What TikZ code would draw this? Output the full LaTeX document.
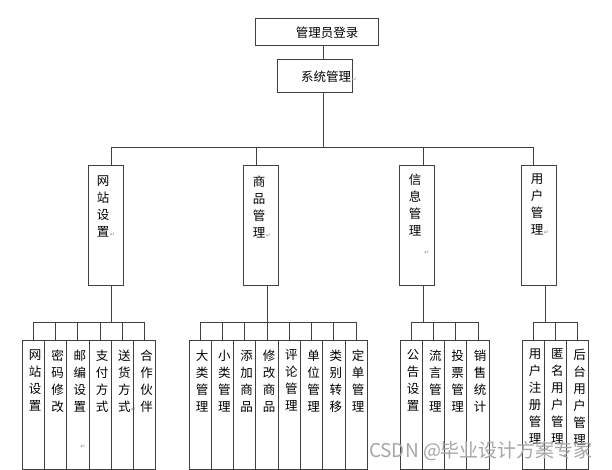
\documentclass[tikz,border=0pt]{standalone}
\usepackage{fontspec}
\setmainfont{Noto Sans CJK SC}
\newfontfamily\markfont{DejaVu Sans}
\usetikzlibrary{positioning}
\newcommand{\pmark}{\rlap{\kern0.5pt\textcolor{black!45}{\markfont\fontsize{6}{6}\selectfont ↵}}}
\tikzset{
    box/.style={rectangle,draw=black!75,line width=0.9pt,inner sep=0pt},
    headbox/.style={box,minimum width=123pt,minimum height=27pt},
    sysbox/.style={box,minimum width=75pt,minimum height=33pt},
    catbox/.style={box,anchor=north,minimum width=35pt,minimum height=120pt},
    leafbox/.style={box,anchor=north,minimum width=22.3pt,minimum height=129pt},
    title/.style={inner sep=0pt,font=\fontsize{12.5}{14}\selectfont},
    vtext/.style={anchor=north,align=center,inner sep=0pt,font=\fontsize{12.5}{17}\selectfont},
    pm/.style={inner sep=0pt,text=black!45,font=\markfont\fontsize{6}{6}\selectfont},
    link/.style={draw=black!75,line width=0.9pt},
    wmark/.style={inner sep=0pt,text=black!35,font=\fontsize{19}{19}\selectfont},
}

\begin{document}
\begin{tikzpicture}[x=1pt,y=-1pt]
    \path[use as bounding box,fill=white] (0,0) rectangle (612,470);

    % top of the tree
    \node[headbox] (login) at (316.5,31.5) {};
    \node[title] (tLogin) at (327,33) {管理员登录};
    \node[sysbox] (sys) at (314.5,75.5) {};
    \node[title] (tSys) at (326,77) {系统管理\pmark};

    % second level
    \node[catbox] (web) at (105.5,165) {};
    \node[catbox] (goods) at (261,165) {};
    \node[catbox] (info) at (417,165) {};
    \node[catbox] (usr) at (539,165) {};
    \node[vtext] (tWeb) at (103,175.5) {网\\站\\设\\置\pmark};
    \node[vtext] (tGoods) at (259,175.5) {商\\品\\管\\理\pmark};
    \node[vtext] (tInfo) at (415,173.5) {信\\息\\管\\理};
    \node[vtext] (tUsr) at (537,173.5) {用\\户\\管\\理\pmark};
    \node[pm] (pInfo) at (427,253) {↵};

    % leaves: website
    \node[leafbox] (w1) at (33.2,340) {};
    \node[leafbox] (w2) at (55.5,340) {};
    \node[leafbox] (w3) at (77.8,340) {};
    \node[leafbox] (w4) at (100.1,340) {};
    \node[leafbox] (w5) at (122.4,340) {};
    \node[leafbox] (w6) at (144.7,340) {};
    \node[vtext] (tw1) at (35.2,349.5) {网\\站\\设\\置};
    \node[vtext] (tw2) at (57.5,349.5) {密\\码\\修\\改};
    \node[vtext] (tw3) at (79.8,349.5) {邮\\编\\设\\置};
    \node[vtext] (tw4) at (102.1,349.5) {支\\付\\方\\式};
    \node[vtext] (tw5) at (124.4,349.5) {送\\货\\方\\式\pmark};
    \node[vtext] (tw6) at (146.7,349.5) {合\\作\\伙\\伴};
    \node[pm] (pw3) at (83,447) {↵};

    % leaves: goods
    \node[leafbox] (g1) at (200.1,340) {};
    \node[leafbox] (g2) at (222.4,340) {};
    \node[leafbox] (g3) at (244.7,340) {};
    \node[leafbox] (g4) at (267,340) {};
    \node[leafbox] (g5) at (289.3,340) {};
    \node[leafbox] (g6) at (311.6,340) {};
    \node[leafbox] (g7) at (333.9,340) {};
    \node[leafbox] (g8) at (356.2,340) {};
    \node[vtext] (tg1) at (202.1,349.5) {大\\类\\管\\理};
    \node[vtext] (tg2) at (224.4,349.5) {小\\类\\管\\理};
    \node[vtext] (tg3) at (246.7,349.5) {添\\加\\商\\品};
    \node[vtext] (tg4) at (269,349.5) {修\\改\\商\\品};
    \node[vtext] (tg5) at (291.3,349.5) {评\\论\\管\\理};
    \node[vtext] (tg6) at (313.6,349.5) {单\\位\\管\\理};
    \node[vtext] (tg7) at (335.9,349.5) {类\\别\\转\\移};
    \node[vtext] (tg8) at (358.2,349.5) {定\\单\\管\\理};

    % leaves: information
    \node[leafbox] (i1) at (411.1,340) {};
    \node[leafbox] (i2) at (433.4,340) {};
    \node[leafbox] (i3) at (455.7,340) {};
    \node[leafbox] (i4) at (478,340) {};
    \node[vtext] (ti1) at (413.1,349.5) {公\\告\\设\\置};
    \node[vtext] (ti2) at (435.4,349.5) {流\\言\\管\\理};
    \node[vtext] (ti3) at (457.7,349.5) {投\\票\\管\\理};
    \node[vtext] (ti4) at (480,349.5) {销\\售\\统\\计};

    % leaves: users
    \node[leafbox] (u1) at (533.1,340) {};
    \node[leafbox] (u2) at (555.4,340) {};
    \node[leafbox] (u3) at (577.7,340) {};
    \node[vtext] (tu1) at (535.1,348.5) {用\\户\\注\\册\\管\\理};
    \node[vtext] (tu2) at (557.4,348.5) {匿\\名\\用\\户\\管\\理};
    \node[vtext] (tu3) at (579.7,348.5) {后\\台\\用\\户\\管\\理};

    % junctions
    \coordinate (trunk) at (323,147);
    \coordinate (jWeb) at (111,147);
    \coordinate (jGoods) at (256,147);
    \coordinate (jInfo) at (423,147);
    \coordinate (jUsr) at (533,147);
    \coordinate (bWeb) at (111,322);
    \coordinate (bGoods) at (267,322);
    \coordinate (bInfo) at (423,322);
    \coordinate (bUsr) at (545,322);

    \draw[link] (login.south -| trunk) -- (sys.north -| trunk);
    \draw[link] (sys.south -| trunk) -- (trunk);
    \draw[link] (jWeb) -- (jUsr);
    \draw[link] (jWeb) -- (jWeb |- web.north);
    \draw[link] (jGoods) -- (jGoods |- goods.north);
    \draw[link] (jInfo) -- (jInfo |- info.north);
    \draw[link] (jUsr) -- (jUsr |- usr.north);

    \draw[link] (web.south -| bWeb) -- (bWeb);
    \draw[link] (w1.north) -- (w1.north |- bWeb) -- (w6.north |- bWeb) -- (w6.north);
    \draw[link] (w2.north) -- (w2.north |- bWeb) (w3.north) -- (w3.north |- bWeb)
        (w4.north) -- (w4.north |- bWeb) (w5.north) -- (w5.north |- bWeb);

    \draw[link] (goods.south -| bGoods) -- (bGoods);
    \draw[link] (g1.north) -- (g1.north |- bGoods) -- (g8.north |- bGoods) -- (g8.north);
    \draw[link] (g2.north) -- (g2.north |- bGoods) (g3.north) -- (g3.north |- bGoods)
        (g4.north) -- (g4.north |- bGoods) (g5.north) -- (g5.north |- bGoods)
        (g6.north) -- (g6.north |- bGoods) (g7.north) -- (g7.north |- bGoods);

    \draw[link] (info.south -| bInfo) -- (bInfo);
    \draw[link] (i1.north) -- (i1.north |- bInfo) -- (i4.north |- bInfo) -- (i4.north);
    \draw[link] (i2.north) -- (i2.north |- bInfo) (i3.north) -- (i3.north |- bInfo);

    \draw[link] (usr.south -| bUsr) -- (bUsr);
    \draw[link] (u1.north) -- (u1.north |- bUsr) -- (u3.north |- bUsr) -- (u3.north);
    \draw[link] (u2.north) -- (u2.north |- bUsr);

    % watermark
    \node[wmark] (wm) at (481,451) {CSDN\ @毕业设计方案专家};
\end{tikzpicture}
\end{document}
